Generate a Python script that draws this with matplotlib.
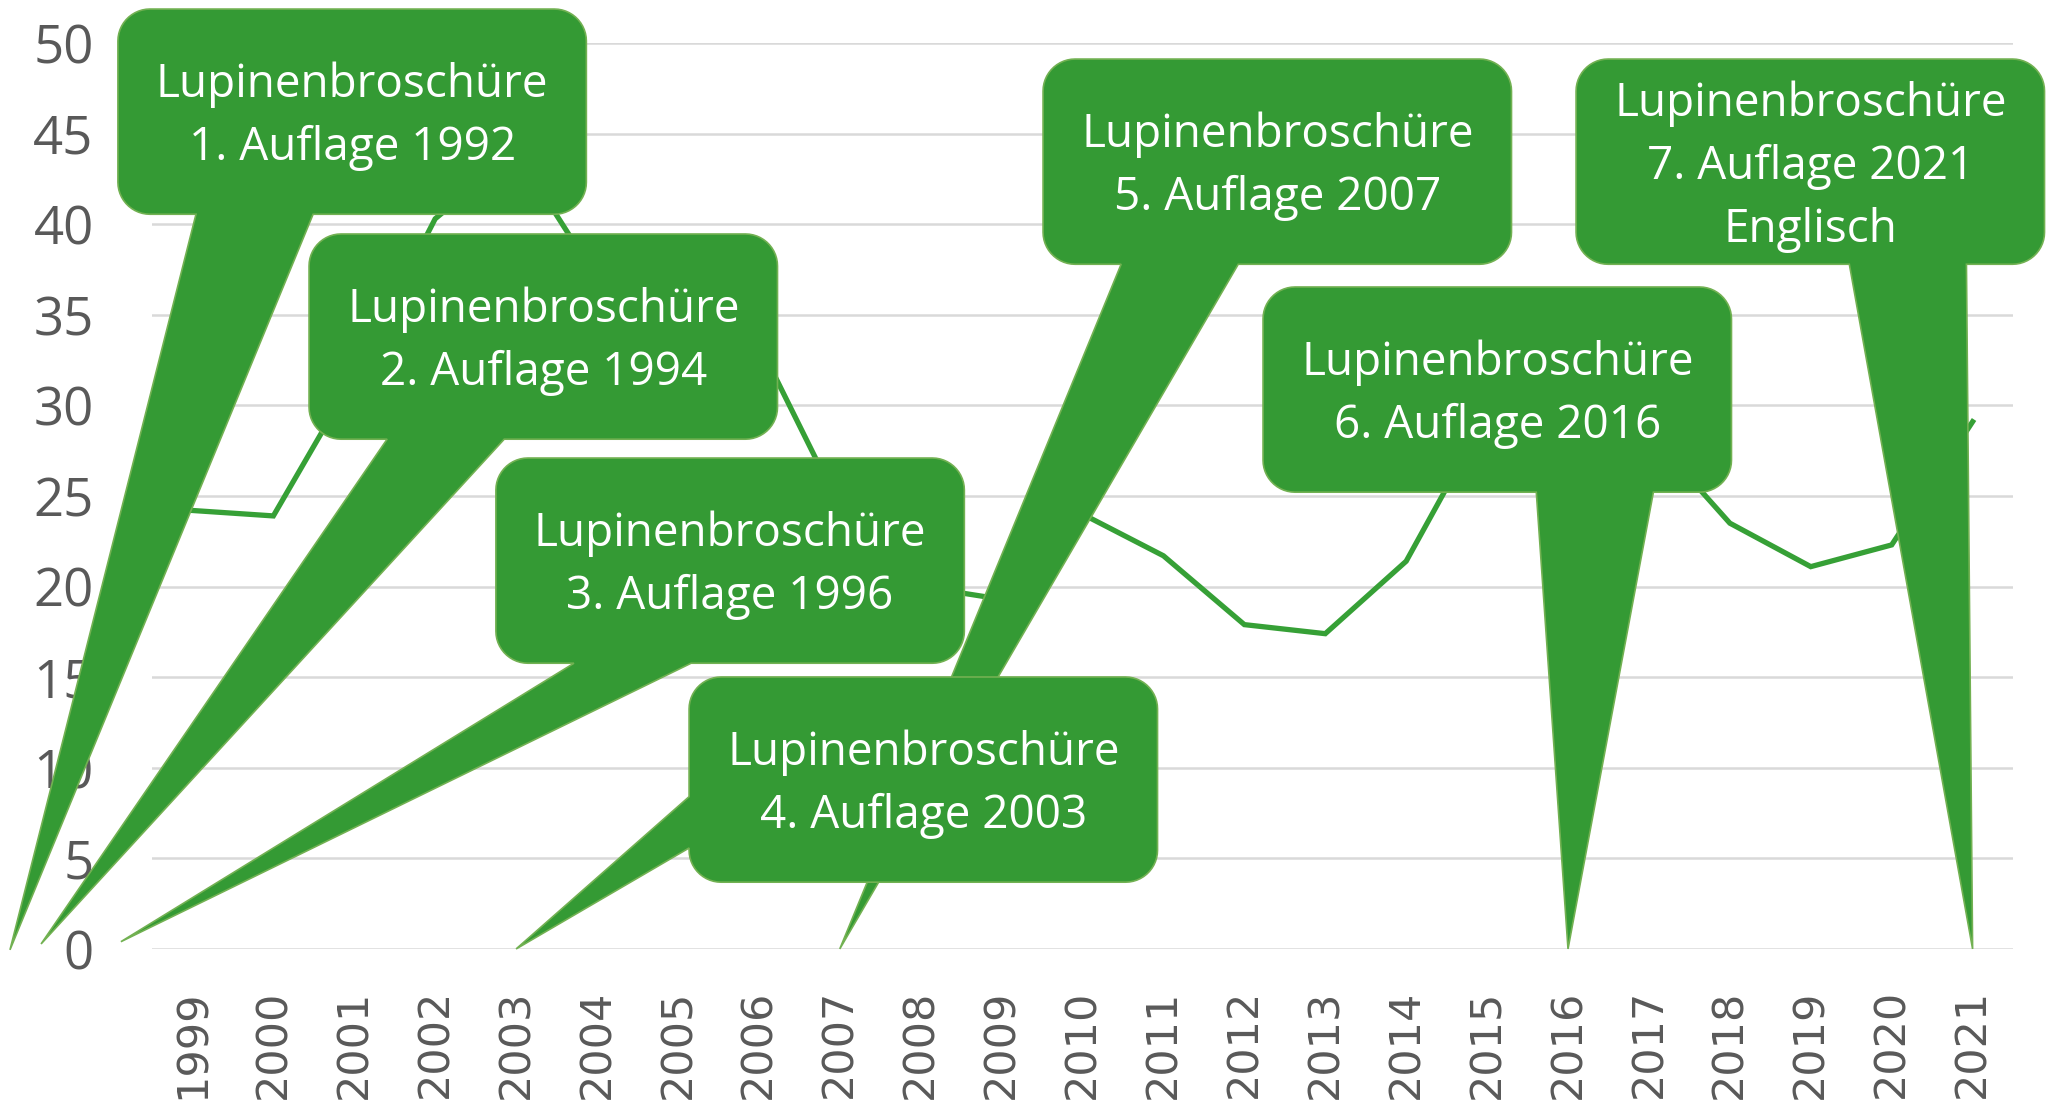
import numpy as np
import matplotlib
matplotlib.use("Agg")
import matplotlib.pyplot as plt
from matplotlib.patches import Polygon
from matplotlib.transforms import IdentityTransform

# chart data
years = [str(y) for y in range(1999, 2022)]
values = [24.2, 23.9, 31.6, 40.3, 44.0, 37.0, 35.0, 33.4, 24.4, 20.0, 19.3,
          24.0, 21.7, 17.9, 17.4, 21.4, 29.5, 30.0, 28.5, 23.5, 21.1, 22.3, 29.1]
y_ticks = list(range(0, 51, 5))

title_line = "Lupinenbroschüre"
editions = ["1. Auflage 1992", "2. Auflage 1994", "3. Auflage 1996",
            "4. Auflage 2003", "5. Auflage 2007", "6. Auflage 2016",
            "7. Auflage 2021\nEnglisch"]
edition_years = [1992, 1994, 1996, 2003, 2007, 2016, 2021]

GREEN = "#349a34"
EDGE = "#72b152"
GREY = "#595959"
DPI = 100

# callout layout (axes fractions): lower-left corner of each box
box_w, box_h = 0.2517, 0.2265
box_ll = [(-0.0183, 0.8110), (0.0844, 0.5627), (0.1848, 0.3154),
          (0.2886, 0.0737), (0.4788, 0.7558), (0.5970, 0.5042),
          (0.7652, 0.7558)]
# wedge side and span along that side
wedges = [("bottom", 1 / 6, 5 / 12), ("bottom", 1 / 6, 5 / 12),
          ("bottom", 1 / 6, 5 / 12), ("left", 7 / 12, 5 / 6),
          ("bottom", 1 / 6, 5 / 12), ("bottom", 7 / 12, 5 / 6),
          ("bottom", 7 / 12, 5 / 6)]
# editions before 1999 point off the left edge of the plot
offaxis_tips = {1992: (-0.0763, -0.001), 1994: (-0.0596, 0.0055),
                1996: (-0.0167, 0.008)}
stacking = [5, 5, 5, 7, 6, 5, 5]


def callout_outline(x0, y0, x1, y1, r, side, f0, f1, tip, n=14):
    w, h = x1 - x0, y1 - y0

    def arc(cx, cy, a0, a1):
        t = np.linspace(a0, a1, n)
        return list(zip(cx + r * np.cos(t), cy + r * np.sin(t)))

    pts = []
    # bottom edge, left to right
    pts += arc(x0 + r, y0 + r, np.pi, 1.5 * np.pi)
    if side == "bottom":
        pts += [(x0 + f0 * w, y0), tip, (x0 + f1 * w, y0)]
    pts += arc(x1 - r, y0 + r, 1.5 * np.pi, 2 * np.pi)
    pts += arc(x1 - r, y1 - r, 0, 0.5 * np.pi)
    pts += arc(x0 + r, y1 - r, 0.5 * np.pi, np.pi)
    # left edge, top to bottom
    if side == "left":
        pts += [(x0, y1 - f0 * h), tip, (x0, y1 - f1 * h)]
    return pts


fig = plt.figure(figsize=(20.51, 11.06), dpi=DPI)
ax = fig.add_axes([0.0741, 0.1420, 0.9074, 0.8191])

x = np.arange(len(years))
ax.plot(x, values, color="#36a036", lw=3.8, zorder=3, solid_joinstyle="miter")

ax.set_xlim(-0.5, len(years) - 0.5)
ax.set_ylim(0, 50)
ax.set_yticks(y_ticks)
ax.set_xticks(x)
ax.set_xticklabels(years, rotation=90, family="DejaVu Sans", fontsize=31, color=GREY)
ax.set_yticklabels([str(v) for v in y_ticks], family="Open Sans", fontsize=38, color=GREY)
ax.tick_params(axis="x", length=0, pad=29)
ax.tick_params(axis="y", length=0, pad=42)
ax.yaxis.grid(True, color="#d9d9d9", lw=1.8)
ax.set_axisbelow(True)
for s in ax.spines.values():
    s.set_visible(False)

ident = IdentityTransform()
for i, (edition, year) in enumerate(zip(editions, edition_years)):
    lx, by = box_ll[i]
    x0, y0 = ax.transAxes.transform((lx, by))
    x1, y1 = ax.transAxes.transform((lx + box_w, by + box_h))
    if str(year) in years:
        tip = ax.transData.transform((years.index(str(year)), 0))
    else:
        tip = ax.transAxes.transform(offaxis_tips[year])
    side, f0, f1 = wedges[i]
    pts = callout_outline(x0, y0, x1, y1, 32, side, f0, f1, tuple(tip))
    fig.add_artist(Polygon(pts, closed=True, transform=ident, facecolor=GREEN,
                           edgecolor=EDGE, lw=1.2, zorder=stacking[i]))
    lines = [title_line] + edition.split("\n")
    cx, cy = (x0 + x1) / 2, (y0 + y1) / 2 - 5
    step = 63
    for k, line in enumerate(lines):
        ty = cy + ((len(lines) - 1) / 2 - k) * step
        fig.text(cx, ty, line, transform=ident, ha="center", va="center",
                 family="Open Sans", fontsize=33, color="white",
                 zorder=stacking[i] + 0.5)

fig.savefig("out.png", dpi=DPI)
